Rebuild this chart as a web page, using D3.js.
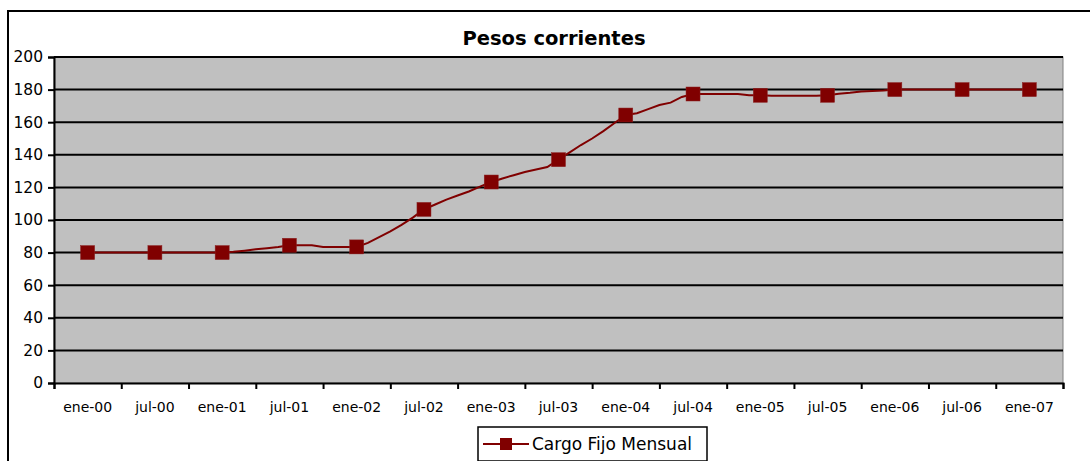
<!DOCTYPE html>
<html>
<head>
<meta charset="utf-8">
<script src="https://cdn.jsdelivr.net/npm/d3@7"></script>
<style>
  body { margin: 0; background: #fff; }
  svg text { font-family: "DejaVu Sans", Verdana, sans-serif; fill: #000; }
</style>
</head>
<body>
<div id="chart"></div>
<script>
// tick labels, one every six months
var tickLabels = ["ene-00","jul-00","ene-01","jul-01","ene-02","jul-02","ene-03","jul-03",
                  "ene-04","jul-04","ene-05","jul-05","ene-06","jul-06","ene-07"];
// monthly values, ene-00 .. ene-07 (85 months)
var cargoFijo = [
  80,80,80,80,80,80, 80,80,80,80,80,80,          // 2000
  80,80.5,81.2,82,82.7,83.4, 84.5,84.5,84.5,83.5,83.5,83.5,   // 2001
  83.5,86,89.5,93,97,101.5, 106.5,109.5,112.5,115,117.5,120.5, // 2002
  123.3,125.5,127.5,129.5,131,132.5, 137,141.5,146,150,154.5,159.5, // 2003
  164.4,165.5,168,170.5,172,175.5, 177.3,177.3,177.3,177.3,177.3,176.5, // 2004
  176.5,176.3,176.3,176.3,176.3,176.3, 176.5,177.5,178,178.8,179.2,179.5, // 2005
  180,180,180,180,180,180, 180,180,180,180,180,180, // 2006
  180
];
var yTicks = [0,20,40,60,80,100,120,140,160,180,200];
var seriesName = "Cargo Fijo Mensual";
var title = "Pesos corrientes";

var W = 1090, H = 461;
var margin = {top: 57, right: 27, bottom: 78, left: 54};
var width = W - margin.left - margin.right,
    height = H - margin.top - margin.bottom;

var data = cargoFijo.map(function(v, i) { return {m: i, v: v}; });
var marks = data.filter(function(d) { return d.m % 6 === 0; });

var svg = d3.select("#chart").append("svg")
    .attr("width", W).attr("height", H);

// outer frame
svg.append("rect")
    .attr("x", 8).attr("y", 11)
    .attr("width", 1100).attr("height", 470)
    .attr("fill", "none").attr("stroke", "#000").attr("stroke-width", 2);

svg.append("text")
    .attr("x", 554).attr("y", 45)
    .attr("text-anchor", "middle")
    .style("font-size", "19.5px").style("font-weight", "bold")
    .text(title);

var g = svg.append("g")
    .attr("transform", "translate(" + margin.left + "," + margin.top + ")");

var x = d3.scaleLinear().domain([-3, 87]).range([0, width]);
var y = d3.scaleLinear().domain([0, 200]).range([height, 0]);

// plot area
g.append("rect")
    .attr("width", width).attr("height", height)
    .attr("fill", "#c0c0c0")
    .attr("stroke", "#808080").attr("stroke-width", 1);

// gridlines
g.selectAll(".grid").data(yTicks.filter(function(t) { return t > 0; }))
  .enter().append("line")
    .attr("x1", 0).attr("x2", width)
    .attr("y1", function(d) { return y(d); })
    .attr("y2", function(d) { return y(d); })
    .attr("stroke", "#000").attr("stroke-width", 2);

// y axis
var yAxis = g.append("g")
    .call(d3.axisLeft(y).tickValues(yTicks).tickSize(6).tickPadding(5));
yAxis.selectAll("text").style("font-size", "15.5px");

// x axis: ticks between categories, labels at the half-year points
var boundaries = d3.range(-3, 88, 6);
var xAxis = g.append("g")
    .attr("transform", "translate(0," + height + ")")
    .call(d3.axisBottom(x).tickValues(boundaries).tickSize(6).tickFormat(""));
g.append("g")
    .attr("transform", "translate(0," + height + ")")
    .selectAll("text").data(tickLabels).enter().append("text")
    .attr("x", function(d, i) { return x(i * 6); })
    .attr("y", 29)
    .attr("text-anchor", "middle")
    .style("font-size", "14px")
    .text(function(d) { return d; });

[yAxis, xAxis].forEach(function(a) {
  a.select(".domain").attr("stroke", "#000").attr("stroke-width", 2);
  a.selectAll(".tick line").attr("stroke", "#000").attr("stroke-width", 2);
});

// line
g.append("path")
    .datum(data)
    .attr("fill", "none")
    .attr("stroke", "#800000")
    .attr("stroke-width", 2)
    .attr("d", d3.line()
      .x(function(d) { return x(d.m); })
      .y(function(d) { return y(d.v); }));

// markers
var ms = 14;
g.selectAll(".mk").data(marks).enter().append("rect")
    .attr("x", function(d) { return x(d.m) - ms / 2; })
    .attr("y", function(d) { return y(d.v) - ms / 2; })
    .attr("width", ms).attr("height", ms)
    .attr("fill", "#800000")
    .attr("stroke", "#8a2020").attr("stroke-width", 0.5);

// legend
var lg = svg.append("g").attr("transform", "translate(478,427)");
lg.append("rect")
    .attr("width", 229).attr("height", 34)
    .attr("fill", "#fff").attr("stroke", "#000").attr("stroke-width", 1.5);
lg.append("line")
    .attr("x1", 5).attr("x2", 51).attr("y1", 17).attr("y2", 17)
    .attr("stroke", "#800000").attr("stroke-width", 2);
lg.append("rect")
    .attr("x", 28 - 6).attr("y", 17 - 6).attr("width", 12).attr("height", 12)
    .attr("fill", "#800000");
lg.append("text")
    .attr("x", 54).attr("y", 23)
    .style("font-size", "17px")
    .text(seriesName);
</script>
</body>
</html>
